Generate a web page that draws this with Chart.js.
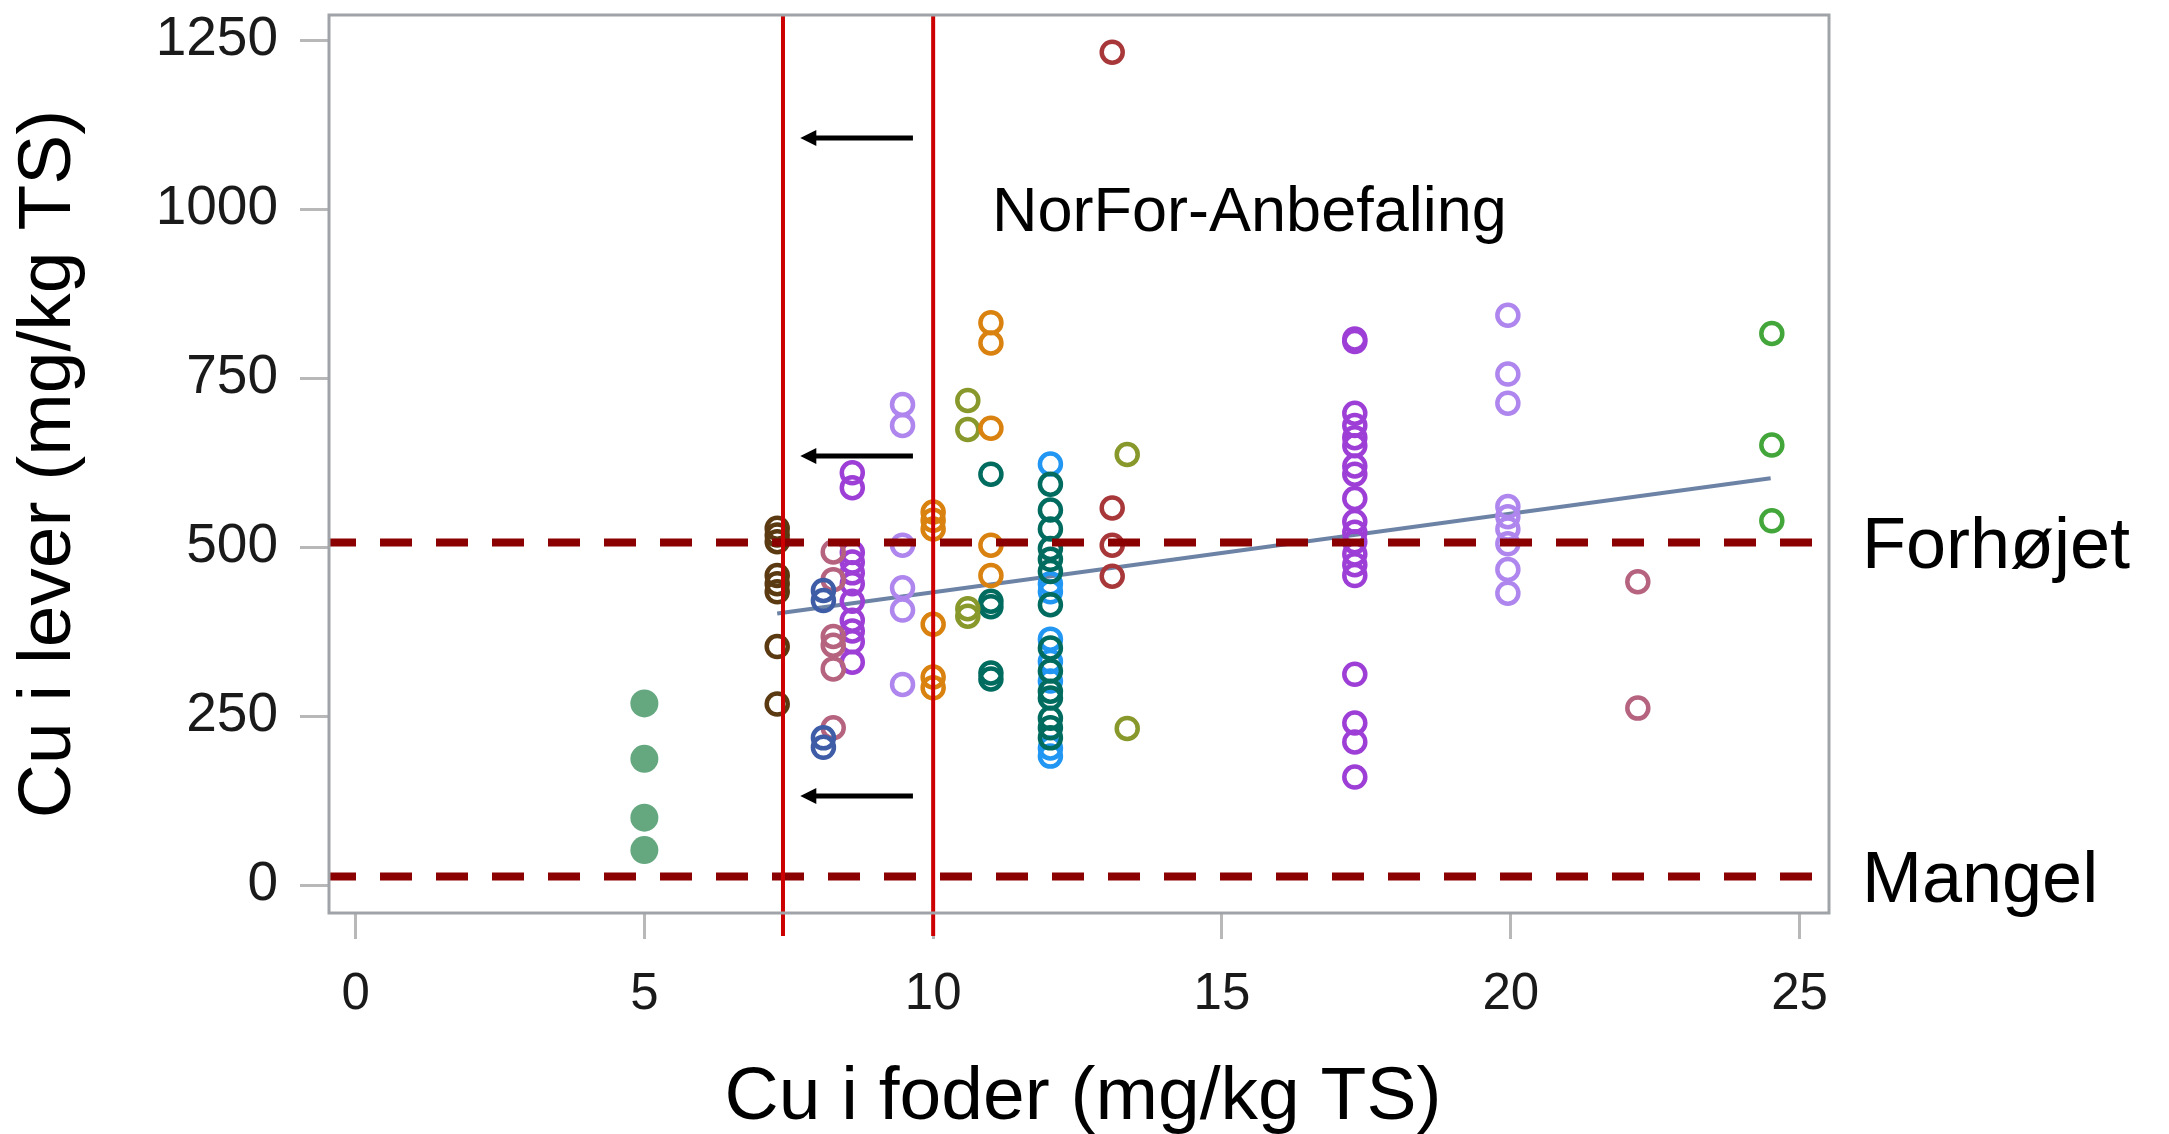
<!DOCTYPE html>
<html>
<head>
<meta charset="utf-8">
<title>Cu i foder vs Cu i lever</title>
<script src="https://cdn.jsdelivr.net/npm/chart.js@4.4.0/dist/chart.umd.min.js"></script>
<style>
  html, body { margin: 0; padding: 0; background: #fff; }
</style>
</head>
<body>
<canvas id="myChart" width="2169" height="1134"></canvas>
<script>
// Cu i foder (x) mod Cu i lever (y), mg/kg TS
const FONT = "'Liberation Sans', Arial, sans-serif";

const xTicks = [0, 5, 10, 15, 20, 25];
const yTicks = [0, 250, 500, 750, 1000, 1250];

// punkter: [foder, lever]
const brownPts = [[7.3, 528], [7.3, 518], [7.3, 508], [7.3, 458], [7.3, 446], [7.3, 434], [7.3, 353], [7.3, 268]];
const slatePts = [[8.1, 436], [8.1, 421], [8.1, 218], [8.1, 204]];
const rosePts = [[8.27, 493], [8.27, 452], [8.27, 368], [8.27, 355], [8.27, 320], [8.27, 233], [22.2, 449], [22.2, 262]];
const purplePts = [
  [8.6, 610], [8.6, 588], [8.6, 492], [8.6, 478], [8.6, 462], [8.6, 446], [8.6, 420], [8.6, 392], [8.6, 376], [8.6, 360], [8.6, 330],
  [17.3, 808], [17.3, 804], [17.3, 698], [17.3, 680], [17.3, 662], [17.3, 650], [17.3, 620], [17.3, 608], [17.3, 572],
  [17.3, 538], [17.3, 522], [17.3, 508], [17.3, 490], [17.3, 474], [17.3, 458], [17.3, 312], [17.3, 240], [17.3, 212], [17.3, 160],
];
const lavenderPts = [
  [9.47, 711], [9.47, 680], [9.47, 503], [9.47, 440], [9.47, 407], [9.47, 297],
  [19.95, 843], [19.95, 756], [19.95, 713], [19.95, 560], [19.95, 545], [19.95, 527], [19.95, 505], [19.95, 467], [19.95, 432],
];
const orangePts = [[10.0, 552], [10.0, 540], [10.0, 527], [10.0, 386], [10.0, 308], [10.0, 292], [11.0, 832], [11.0, 802], [11.0, 676], [11.0, 503], [11.0, 458]];
const olivePts = [[10.6, 717], [10.6, 674], [10.6, 409], [10.6, 398], [13.36, 637], [13.36, 232]];
const tealPts = [
  [11.0, 608], [11.0, 420], [11.0, 412], [11.0, 314], [11.0, 305],
  [12.03, 593], [12.03, 555], [12.03, 527], [12.03, 498], [12.03, 482], [12.03, 464], [12.03, 415],
  [12.03, 351], [12.03, 317], [12.03, 287], [12.03, 277], [12.03, 247], [12.03, 233], [12.03, 218],
];
const bluePts = [[12.03, 623], [12.03, 446], [12.03, 434], [12.03, 364], [12.03, 331], [12.03, 302], [12.03, 203], [12.03, 191]];
const brickPts = [[13.1, 1232], [13.1, 558], [13.1, 503], [13.1, 457]];
const greenPts = [[24.52, 816], [24.52, 651], [24.52, 539]];
const filledPts = [[5.0, 269], [5.0, 187], [5.0, 100], [5.0, 52]];

// regressionslinje
const regX = [7.3, 24.5];
const regY = [402, 602];

// NorFor-anbefaling og grænser
const recommendX = [7.4, 10];
const limitY = [507, 13];
const limitLabels = ['Forhøjet', 'Mangel'];
const arrowY = [1105, 635, 132];
const arrowFromX = 9.65;
const arrowToX = 7.7;

function toXY(points) {
  return points.map((p) => ({ x: p[0], y: p[1] }));
}

function ringSet(points, color) {
  return {
    type: 'scatter',
    data: toXY(points),
    pointStyle: 'circle',
    pointRadius: 10.5,
    pointHoverRadius: 10.5,
    borderWidth: 4.5,
    borderColor: color,
    backgroundColor: 'rgba(0,0,0,0)',
  };
}

function noPadding(s) {
  s.paddingTop = 0;
  s.paddingBottom = 0;
  s.paddingLeft = 0;
  s.paddingRight = 0;
}

const extras = {
  id: 'extras',
  afterDatasetsDraw(chart) {
    const { ctx, chartArea } = chart;
    const xs = chart.scales.x;
    const ys = chart.scales.y;
    ctx.save();

    // stiplede grænser
    ctx.strokeStyle = '#8B0000';
    ctx.lineWidth = 8;
    ctx.setLineDash([32, 24]);
    ctx.lineDashOffset = 5;
    limitY.forEach((v) => {
      const py = ys.getPixelForValue(v);
      ctx.beginPath();
      ctx.moveTo(chartArea.left, py);
      ctx.lineTo(chartArea.right, py);
      ctx.stroke();
    });
    ctx.setLineDash([]);

    // lodrette røde linjer
    ctx.strokeStyle = '#CC0000';
    ctx.lineWidth = 4;
    recommendX.forEach((v) => {
      const px = xs.getPixelForValue(v);
      ctx.beginPath();
      ctx.moveTo(px, chartArea.top);
      ctx.lineTo(px, chartArea.bottom + 23);
      ctx.stroke();
    });

    // pile
    ctx.strokeStyle = '#000';
    ctx.fillStyle = '#000';
    ctx.lineWidth = 5;
    const x0 = xs.getPixelForValue(arrowFromX);
    const x1 = xs.getPixelForValue(arrowToX);
    arrowY.forEach((v) => {
      const py = ys.getPixelForValue(v);
      ctx.beginPath();
      ctx.moveTo(x0, py);
      ctx.lineTo(x1 + 12, py);
      ctx.stroke();
      ctx.beginPath();
      ctx.moveTo(x1, py);
      ctx.lineTo(x1 + 16, py - 8);
      ctx.lineTo(x1 + 16, py + 8);
      ctx.closePath();
      ctx.fill();
    });

    // tekster
    ctx.fillStyle = '#000';
    ctx.textAlign = 'left';
    ctx.textBaseline = 'alphabetic';
    ctx.font = '63px ' + FONT;
    ctx.fillText('NorFor-Anbefaling', xs.getPixelForValue(11.02), ys.getPixelForValue(967));

    ctx.font = '72px ' + FONT;
    limitY.forEach((v, i) => {
      const py = ys.getPixelForValue(v);
      ctx.fillText(limitLabels[i], chartArea.right + 33, py + 26);
    });

    // ramme
    ctx.strokeStyle = '#A0A4A8';
    ctx.lineWidth = 3;
    ctx.strokeRect(chartArea.left, chartArea.top, chartArea.right - chartArea.left, chartArea.bottom - chartArea.top);

    // aksetitler
    ctx.font = '75px ' + FONT;
    ctx.textAlign = 'center';
    ctx.fillText('Cu i foder (mg/kg TS)', (chartArea.left + chartArea.right) / 2 + 4, 1119);
    ctx.translate(70, (chartArea.top + chartArea.bottom) / 2);
    ctx.rotate(-Math.PI / 2);
    ctx.fillText('Cu i lever (mg/kg TS)', 0, 0);

    ctx.restore();
  },
};

const config = {
  type: 'scatter',
  data: {
    datasets: [
      {
        type: 'scatter',
        data: toXY(filledPts),
        pointRadius: 14,
        pointHoverRadius: 14,
        borderWidth: 0,
        backgroundColor: '#65A880',
      },
      ringSet(brownPts, '#5B3A12'),
      ringSet(slatePts, '#3E5DA6'),
      ringSet(rosePts, '#B5637F'),
      ringSet(purplePts, '#9D3FD6'),
      ringSet(lavenderPts, '#AE86EE'),
      ringSet(orangePts, '#D9820F'),
      ringSet(olivePts, '#88982A'),
      ringSet(tealPts, '#006B5F'),
      ringSet(bluePts, '#2196F3'),
      ringSet(brickPts, '#A8373A'),
      ringSet(greenPts, '#43A63A'),
      {
        type: 'line',
        data: regX.map((x, i) => ({ x: x, y: regY[i] })),
        borderColor: '#6D83A6',
        borderWidth: 4,
        pointRadius: 0,
        showLine: true,
        fill: false,
      },
    ],
  },
  options: {
    responsive: false,
    animation: false,
    layout: { padding: { top: 11, right: 340, left: 0, bottom: 0 } },
    plugins: { legend: { display: false }, tooltip: { enabled: false } },
    scales: {
      x: {
        type: 'linear',
        min: -0.46,
        max: 25.51,
        afterBuildTicks: (s) => { s.ticks = xTicks.map((v) => ({ value: v })); },
        afterFit: (s) => { s.height = 221; noPadding(s); },
        grid: { drawOnChartArea: false, drawTicks: true, tickLength: 26, color: '#B8B8B8', lineWidth: 3 },
        border: { display: false },
        ticks: { font: { family: FONT, size: 51 }, color: '#1a1a1a', padding: 25, maxRotation: 0, callback: (v) => String(v) },
      },
      y: {
        type: 'linear',
        min: -41,
        max: 1287,
        afterBuildTicks: (s) => { s.ticks = yTicks.map((v) => ({ value: v })); },
        afterFit: (s) => { s.width = 329; noPadding(s); },
        grid: { drawOnChartArea: false, drawTicks: true, tickLength: 29, color: '#B8B8B8', lineWidth: 3 },
        border: { display: false },
        ticks: { font: { family: FONT, size: 55 }, color: '#1a1a1a', padding: 22, callback: (v) => String(v) },
      },
    },
  },
  plugins: [extras],
};

const myChart = new Chart(document.getElementById('myChart'), config);
</script>
</body>
</html>
